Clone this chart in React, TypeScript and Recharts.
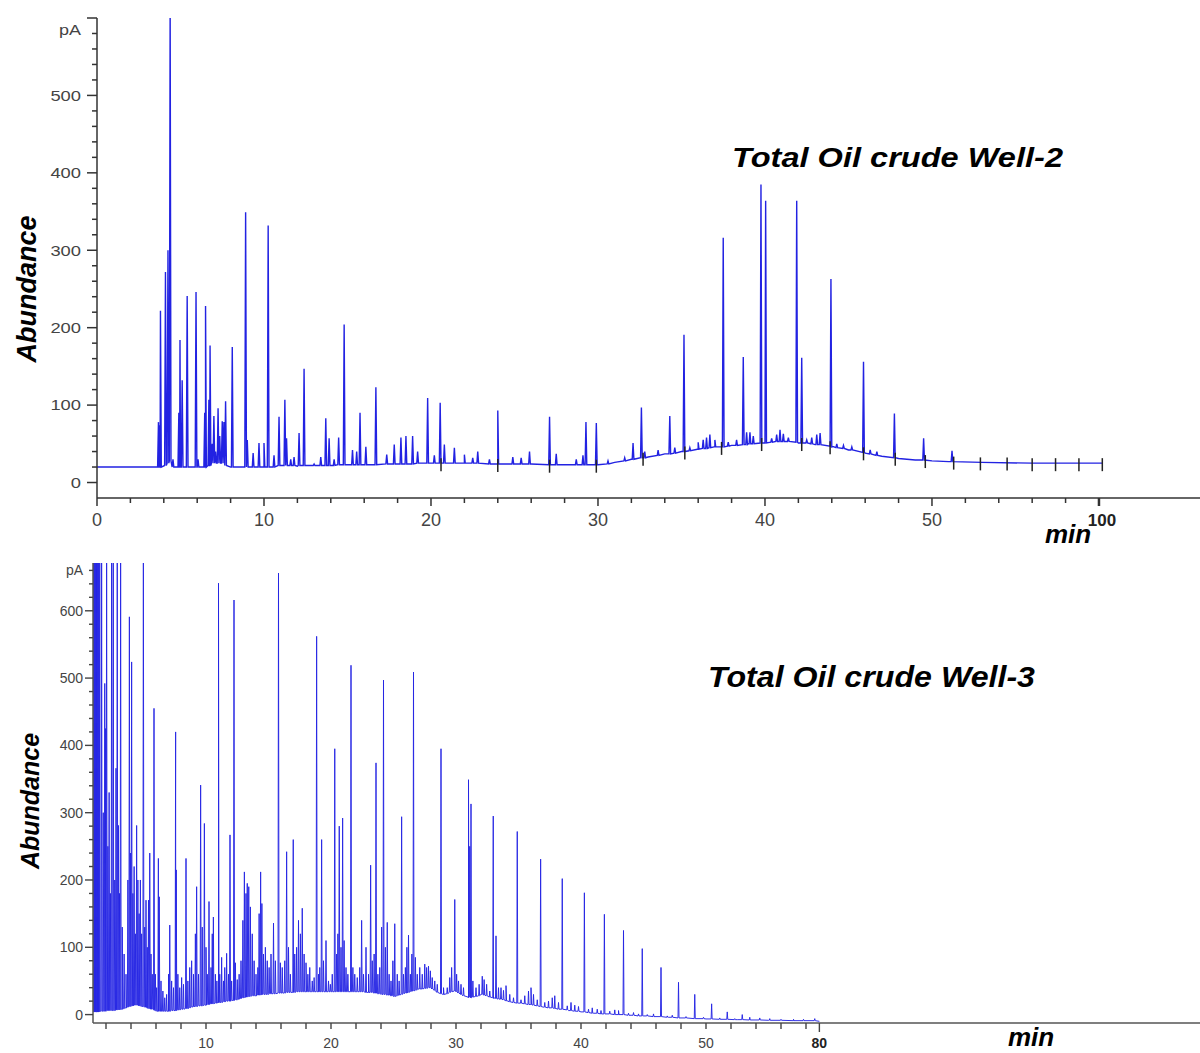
import React from "react";
import { ComposedChart, Line, Scatter, XAxis, YAxis } from "recharts";

// ---------- Well-2 (top) ----------
// baseline samples [time (min), abundance (pA)]
const W2_BASE: [number, number][] = [
  [0, 20], [3.55, 20], [5, 20], [8, 20], [10, 20], [12, 21], [14, 22], [16, 23], [18, 24],
  [20, 25], [22, 25], [24, 24], [26, 24], [28, 23], [30, 23], [31, 26], [32, 30], [33, 33],
  [34, 37], [35, 40], [36, 43], [37, 46], [38, 48], [39, 50], [40, 51], [41, 53], [42, 51],
  [43, 49], [44, 45], [45, 42], [46, 38], [47, 34], [48, 31], [49, 29], [50, 28], [51, 27],
  [53, 26], [56, 25], [60.2, 25],
];
// peaks [retention time, apex, foot]
const W2_PEAKS: [number, number, number][] = [
  [3.68, 78, 20], [3.73, 74, 20], [3.8, 222, 20], [4.1, 272, 22], [4.25, 300, 25], [4.38, 620, 28],
  [4.55, 30, 20], [4.9, 90, 20], [4.97, 184, 20], [5.1, 132, 20], [5.4, 241, 20], [5.93, 246, 20],
  [6.05, 30, 20], [6.45, 90, 20], [6.5, 228, 20], [6.7, 107, 22], [6.77, 177, 22], [6.9, 50, 25],
  [7.0, 86, 25], [7.1, 40, 25], [7.25, 96, 25], [7.35, 60, 25], [7.5, 79, 25], [7.6, 78, 25],
  [7.7, 105, 22], [8.1, 175, 20], [8.9, 349, 20], [9.0, 55, 20], [9.35, 38, 20], [9.7, 51, 20],
  [10.0, 51, 20], [10.25, 332, 20], [10.6, 35, 20], [10.9, 85, 22], [11.25, 107, 22], [11.35, 57, 22],
  [11.6, 30, 22], [11.8, 33, 22], [12.1, 64, 22], [12.4, 147, 22], [13.0, 24, 22], [13.4, 33, 22],
  [13.7, 83, 22], [13.9, 57, 22], [14.2, 30, 22], [14.47, 58, 23], [14.8, 204, 23], [15.3, 42, 23],
  [15.55, 40, 23], [15.75, 90, 23], [16.1, 46, 23], [16.7, 123, 23], [17.35, 36, 24], [17.8, 49, 24],
  [18.2, 58, 24], [18.5, 60, 24], [18.9, 60, 24], [19.2, 40, 25], [19.8, 109, 25], [20.2, 35, 25],
  [20.55, 103, 25], [20.8, 49, 25], [21.4, 45, 25], [22.0, 36, 25], [22.5, 32, 25], [22.8, 40, 25],
  [23.5, 30, 24], [24.0, 93, 24], [24.9, 33, 24], [25.4, 32, 24], [25.9, 40, 24], [27.1, 85, 23],
  [27.5, 37, 23], [28.7, 30, 23], [29.1, 35, 23], [29.28, 78, 23], [29.9, 77, 23], [30.6, 28, 24],
  [31.6, 32, 28], [32.1, 51, 30], [32.6, 97, 32], [32.8, 40, 32], [33.6, 42, 35], [34.3, 86, 37],
  [34.6, 45, 38], [35.15, 191, 40], [35.5, 45, 41], [36.0, 52, 43], [36.3, 55, 44], [36.5, 58, 44],
  [36.7, 62, 45], [37.0, 55, 46], [37.5, 316, 46], [37.8, 52, 47], [38.3, 55, 48], [38.7, 162, 49],
  [38.9, 65, 49], [39.1, 65, 50], [39.3, 60, 50], [39.76, 385, 51], [40.04, 364, 51], [40.4, 57, 52],
  [40.7, 62, 53], [40.9, 68, 53], [41.1, 63, 53], [41.4, 58, 53], [41.9, 364, 52], [42.2, 161, 51],
  [42.5, 55, 51], [42.8, 58, 50], [43.1, 62, 49], [43.3, 64, 49], [43.95, 263, 47], [44.3, 50, 45],
  [44.7, 48, 44], [45.2, 46, 42], [45.9, 156, 39], [46.3, 42, 37], [46.7, 40, 35], [47.75, 89, 32],
  [49.5, 57, 29], [51.2, 41, 27],
];
// integration markers on the baseline
const W2_MARKS: [number, number][] = [
  [20.6, 25], [24.0, 24], [27.1, 23], [29.9, 23], [32.7, 32], [35.2, 40], [37.4, 46], [39.8, 51],
  [42.2, 51], [43.9, 47], [45.9, 39], [47.8, 32], [49.6, 29], [51.3, 27], [52.9, 26], [54.5, 26],
  [56.0, 25], [57.4, 25], [58.8, 25], [60.2, 25],
];
const W2_XTICKS = [0, 2, 4, 6, 8, 10, 12, 14, 16, 18, 20, 22, 24, 26, 28, 30, 32, 34, 36, 38, 40, 42, 44, 46, 48, 50, 52, 54, 56, 58, 60];
const W2_XLABELS: Record<number, string> = { 0: "0", 10: "10", 20: "20", 30: "30", 40: "40", 50: "50", 60: "100" };
const W2_YTICKS = [0, 20, 40, 60, 80, 100, 120, 140, 160, 180, 200, 220, 240, 260, 280, 300, 320, 340, 360, 380, 400, 420, 440, 460, 480, 500, 520, 540, 560, 580, 600];

// ---------- Well-3 (bottom) ----------
const W3_BASE: [number, number][] = [
  [0.96, 4], [2, 6], [3.3, 8], [3.6, 10], [4.5, 14], [5.3, 10], [6.2, 5], [7, 5], [8, 8], [9, 12],
  [10, 14], [11, 18], [12, 20], [13, 25], [14, 28], [15, 30], [16, 32], [17, 33], [18, 34], [19, 34],
  [20, 34], [21, 34], [22, 34], [23, 33], [24, 30], [25, 27], [26, 32], [27, 38], [28, 40], [29, 30],
  [30, 35], [31, 25], [32, 30], [33, 24], [34, 20], [35, 17], [36, 15], [37, 11], [38, 9], [39, 6],
  [40, 4], [41, 2], [42, 1], [43, 0], [44, -1], [45, -2], [46, -3], [47, -4], [48, -5], [50, -6.5],
  [52.5, -7.5], [55, -8.5], [57, -9], [59.07, -10],
];
const W3_PEAKS: [number, number, number][] = [
  [1.0, 700, 4], [1.06, 700, 4], [1.12, 700, 4], [1.18, 700, 4], [1.24, 700, 4], [1.3, 700, 4],
  [1.36, 700, 4], [1.42, 700, 4], [1.5, 700, 5], [1.65, 700, 5], [1.78, 300, 5], [1.9, 492, 5],
  [1.97, 425, 5], [2.05, 700, 6], [2.15, 250, 6], [2.25, 330, 6], [2.35, 180, 6], [2.45, 700, 6],
  [2.58, 700, 6], [2.7, 200, 6], [2.8, 366, 7], [2.9, 700, 7], [3.0, 281, 7], [3.08, 180, 7],
  [3.17, 700, 8], [3.3, 130, 8], [3.45, 90, 9],
  [3.6, 60, 10], [3.75, 200, 11], [3.87, 591, 12], [3.95, 240, 12], [4.05, 524, 13], [4.15, 180, 13],
  [4.25, 220, 14], [4.35, 120, 14], [4.45, 281, 14], [4.55, 200, 14], [4.65, 150, 13], [4.75, 200, 13],
  [4.85, 120, 12], [4.99, 700, 12], [5.1, 130, 11], [5.2, 170, 11], [5.3, 100, 10], [5.4, 170, 9],
  [5.5, 240, 9], [5.6, 90, 8], [5.7, 60, 8], [5.84, 455, 7], [5.95, 60, 6], [6.05, 40, 5],
  [6.19, 232, 5], [6.26, 175, 5], [6.4, 50, 5], [6.55, 35, 5], [6.7, 25, 5], [6.85, 30, 5],
  [7.0, 60, 5], [7.1, 133, 5], [7.25, 50, 6], [7.4, 40, 6],
  [7.57, 420, 6], [7.62, 215, 6], [7.75, 60, 7], [7.9, 40, 7], [8.05, 55, 8], [8.2, 45, 8],
  [8.4, 232, 9], [8.55, 50, 9], [8.7, 70, 10], [8.85, 80, 11], [9.0, 60, 12], [9.15, 120, 12],
  [9.25, 190, 12], [9.4, 60, 13], [9.57, 341, 13], [9.7, 130, 13], [9.87, 284, 14], [10.0, 100, 14],
  [10.1, 60, 15], [10.24, 168, 15], [10.4, 70, 16], [10.5, 120, 16], [10.59, 145, 16], [10.75, 60, 17],
  [10.87, 50, 17],
  [11.0, 641, 18], [11.1, 60, 18], [11.25, 85, 18], [11.4, 50, 19], [11.5, 70, 19], [11.65, 91, 20],
  [11.8, 60, 20], [11.92, 267, 20], [12.05, 50, 21], [12.24, 616, 21], [12.35, 77, 22], [12.5, 52, 22],
  [12.65, 60, 23], [12.8, 80, 24], [12.95, 140, 25], [13.07, 212, 25], [13.2, 180, 26], [13.3, 195, 26],
  [13.42, 190, 27], [13.55, 160, 27], [13.7, 120, 28], [13.85, 80, 28], [14.0, 60, 28], [14.15, 70, 29],
  [14.25, 150, 29], [14.37, 212, 29], [14.47, 165, 30], [14.6, 90, 30], [14.75, 100, 30], [14.9, 80, 30],
  [15.05, 70, 31], [15.2, 90, 31], [15.4, 136, 31], [15.55, 80, 31],
  [15.8, 656, 32], [15.95, 77, 32], [16.1, 70, 32], [16.3, 80, 32], [16.45, 242, 33], [16.6, 100, 33],
  [16.75, 60, 33], [16.98, 260, 33], [17.1, 90, 33], [17.25, 100, 34], [17.4, 140, 34], [17.55, 120, 34],
  [17.7, 158, 34], [17.85, 90, 34], [18.0, 77, 34], [18.15, 60, 34], [18.3, 70, 34], [18.5, 50, 34],
  [18.65, 55, 34], [18.85, 562, 34], [19.0, 60, 34], [19.1, 70, 34], [19.25, 260, 34], [19.4, 80, 34],
  [19.6, 110, 34], [19.8, 50, 34], [19.95, 45, 34], [20.1, 60, 34],
  [20.3, 395, 34], [20.45, 90, 34], [20.55, 120, 34], [20.66, 280, 34], [20.8, 100, 34], [20.93, 292, 34],
  [21.05, 110, 34], [21.2, 70, 34], [21.35, 60, 34], [21.6, 519, 34], [21.75, 70, 34], [21.9, 60, 34],
  [22.1, 55, 34], [22.3, 70, 34], [22.45, 140, 34], [22.6, 60, 34], [22.8, 100, 33], [23.0, 60, 33],
  [23.17, 222, 33], [23.3, 80, 33], [23.45, 90, 32], [23.6, 374, 32], [23.75, 60, 31], [23.9, 70, 31],
  [24.05, 130, 30], [24.2, 497, 30], [24.35, 100, 30], [24.5, 137, 29], [24.65, 60, 29], [24.8, 50, 28],
  [24.95, 80, 28], [25.1, 135, 27], [25.3, 60, 28], [25.45, 50, 29],
  [25.65, 294, 30], [25.8, 60, 31], [25.95, 70, 32], [26.07, 100, 32], [26.2, 118, 33], [26.35, 60, 34],
  [26.47, 90, 35], [26.6, 509, 35], [26.75, 85, 36], [26.9, 60, 37], [27.1, 70, 38], [27.3, 60, 38],
  [27.5, 75, 39], [27.65, 70, 39], [27.8, 72, 40], [27.95, 65, 40], [28.1, 55, 38], [28.3, 50, 36],
  [28.5, 45, 33], [28.8, 395, 31], [29.0, 40, 30], [29.3, 40, 31], [29.5, 55, 33], [29.65, 70, 34],
  [29.9, 171, 35], [30.05, 60, 34], [30.2, 50, 32], [30.4, 45, 30], [30.6, 40, 28],
  [31.0, 349, 26], [31.1, 250, 26], [31.2, 313, 25], [31.35, 50, 26], [31.6, 40, 27], [31.85, 45, 28],
  [32.1, 57, 30], [32.25, 52, 29], [32.45, 45, 28], [32.7, 35, 26], [32.98, 295, 25], [33.2, 117, 24],
  [33.4, 40, 23], [33.6, 40, 23], [33.8, 36, 22], [34.0, 43, 21], [34.3, 30, 19], [34.6, 25, 18],
  [34.9, 272, 17], [35.2, 22, 17], [35.5, 28, 16],
  [35.8, 35, 15], [36.0, 40, 15], [36.2, 30, 14], [36.5, 22, 13], [36.77, 231, 12], [37.1, 18, 11],
  [37.4, 20, 10], [37.7, 25, 10], [37.9, 28, 9], [38.2, 18, 8], [38.5, 202, 8], [38.9, 13, 7],
  [39.2, 18, 6], [39.5, 14, 5], [39.8, 12, 5], [40.27, 181, 4], [40.6, 8, 3], [40.9, 10, 2],
  [41.3, 8, 2], [41.6, 6, 1],
  [41.87, 149, 1], [42.3, 5, 1], [42.7, 7, 0], [43.0, 6, 0], [43.4, 125, 0], [43.8, 2, -1],
  [44.2, 3, -1], [44.6, 1, -2], [44.9, 98, -2], [45.3, 0, -2], [45.8, 1, -3], [46.4, 70, -3],
  [46.9, -2, -4], [47.3, -1, -4], [47.8, 48, -5], [48.4, -3, -5], [49.1, 30, -6], [49.8, -4, -6],
  [50.45, 16, -6.5], [51.1, -5, -7], [51.7, 4, -7], [52.3, -6, -7.5], [52.9, 0, -7.5], [53.5, -4, -8],
  [54.3, -5, -8], [55.1, -6, -8.5], [56.0, -7, -8.5], [57.0, -7, -9], [57.8, -7, -9], [58.7, -6, -9],
];
const W3_XTICKS = [2, 4, 6, 8, 10, 12, 14, 16, 18, 20, 22, 24, 26, 28, 30, 32, 34, 36, 38, 40, 42, 44, 46, 48, 50, 52, 54, 56, 58, 59.07];
const W3_XLABELS: Record<number, string> = { 10: "10", 20: "20", 30: "30", 40: "40", 50: "50", 59.07: "80" };
const W3_YTICKS = [0, 20, 40, 60, 80, 100, 120, 140, 160, 180, 200, 220, 240, 260, 280, 300, 320, 340, 360, 380, 400, 420, 440, 460, 480, 500, 520, 540, 560, 580, 600, 620, 640, 660];

const BLUE = "#2222e2";
const AXIS = "#333";
const FONT = "'Liberation Sans', Arial, Helvetica, sans-serif";

type Pt = { t: number; v: number };
function buildTrace(base: [number, number][], peaks: [number, number, number][], hw: number): Pt[] {
  const pts: Pt[] = base.map(([t, v]) => ({ t, v }));
  peaks.forEach(([t, h, f]) => {
    pts.push({ t: t - hw, v: f }, { t, v: h }, { t: t + hw, v: f });
  });
  pts.sort((a, b) => a.t - b.t);
  return pts;
}

const traceW2 = buildTrace(W2_BASE, W2_PEAKS, 0.05);
const traceW3 = buildTrace(W3_BASE, W3_PEAKS, 0.04);
const marksW2 = W2_MARKS.map(([t, v]) => ({ t, v }));

const TopXTick = (p: any) => {
  const { x, y, payload } = p;
  const v = payload.value;
  const major = v % 10 === 0;
  const label = W2_XLABELS[v];
  const last = v === 60;
  return (
    <g>
      <line x1={x} x2={x} y1={y} y2={y + (major ? 8 : 5)} stroke={AXIS} strokeWidth={last ? 2.5 : 1.5} />
      {label && (
        <text x={last ? x + 3 : x} y={y + 28} textAnchor="middle" fontSize={last ? 17 : 18} fill={last ? "#222" : "#444"}
          fontWeight={last ? "bold" : "normal"} fontFamily={FONT}>{label}</text>
      )}
    </g>
  );
};

const TopYTick = (p: any) => {
  const { x, y, payload } = p;
  const v = payload.value;
  const major = v % 100 === 0;
  let label: string | null = null;
  if (major && v <= 500) label = String(v);
  if (v === 580) label = "pA";
  return (
    <g>
      <line x1={x} x2={x - (major ? 10 : 5)} y1={y} y2={y} stroke={AXIS} strokeWidth={1.5} />
      {label && (
        <text x={x - 16} y={y} dy={v === 580 ? "0.1em" : "0.36em"} textAnchor="end" fontSize={15}
          fill="#444" fontFamily={FONT} textLength={label === "pA" ? 22 : label.length * 10.2}
          lengthAdjust="spacingAndGlyphs">{label}</text>
      )}
    </g>
  );
};

const BotXTick = (p: any) => {
  const { x, y, payload } = p;
  const v = payload.value;
  const last = v > 59;
  const label = W3_XLABELS[v];
  return (
    <g>
      <line x1={x} x2={x} y1={y} y2={y + (last ? 9 : 6)} stroke="#444" strokeWidth={1.4} />
      {label && (
        <text x={x} y={y + 25} textAnchor="middle" fontSize={14} fill={last ? "#222" : "#444"}
          fontWeight={last ? "bold" : "normal"} fontFamily={FONT}>{label}</text>
      )}
    </g>
  );
};

const BotYTick = (p: any) => {
  const { x, y, payload } = p;
  const v = payload.value;
  const major = v % 100 === 0;
  let label: string | null = null;
  if (major && v <= 600) label = String(v);
  if (v === 660) label = "pA";
  return (
    <g>
      <line x1={x} x2={x - (major ? 8 : 4)} y1={y} y2={y} stroke="#444" strokeWidth={1.4} />
      {label && (
        <text x={x - 10} y={y} dy="0.36em" textAnchor="end" fontSize={14} fill="#444" fontFamily={FONT}>{label}</text>
      )}
    </g>
  );
};

const MarkShape = (p: any) => {
  const { cx, cy } = p;
  return <line x1={cx} x2={cx} y1={cy - 5} y2={cy + 8} stroke="#222" strokeWidth={1.5} />;
};

export default function App() {
  return (
    <div style={{ position: "absolute", left: 0, top: 0, width: 1200, height: 1053, background: "#fff" }}>
      <div style={{ position: "absolute", left: 0, top: 0 }}>
        <ComposedChart width={1200} height={540} data={traceW2} margin={{ top: 18, right: 0, left: 0, bottom: 0 }}>
          <XAxis dataKey="t" type="number" domain={[0, 66.05]} allowDataOverflow ticks={W2_XTICKS} interval={0}
            tickSize={0} tickMargin={0} tickLine={false} height={42}
            axisLine={{ stroke: AXIS, strokeWidth: 1.5 }} tick={TopXTick} />
          <YAxis type="number" domain={[-20, 600]} allowDataOverflow ticks={W2_YTICKS} interval={0}
            tickSize={0} tickMargin={0} tickLine={false} width={97}
            axisLine={{ stroke: AXIS, strokeWidth: 1.5 }} tick={TopYTick} />
          <Line dataKey="v" stroke={BLUE} strokeWidth={1.4} dot={false} isAnimationActive={false} type="linear" />
          <Scatter data={marksW2} dataKey="v" shape={MarkShape} isAnimationActive={false} />
        </ComposedChart>
      </div>
      <div style={{ position: "absolute", left: 0, top: 540 }}>
        <ComposedChart width={1200} height={513} data={traceW3} margin={{ top: 23, right: 0, left: 0, bottom: 0 }}>
          <XAxis dataKey="t" type="number" domain={[0.96, 89.52]} allowDataOverflow ticks={W3_XTICKS} interval={0}
            tickSize={0} tickMargin={0} tickLine={false} height={30}
            axisLine={{ stroke: "#555", strokeWidth: 1.5 }} tick={BotXTick} />
          <YAxis type="number" domain={[-12.5, 671]} allowDataOverflow ticks={W3_YTICKS} interval={0}
            tickSize={0} tickMargin={0} tickLine={false} width={93}
            axisLine={{ stroke: "#555", strokeWidth: 1.5 }} tick={BotYTick} />
          <Line dataKey="v" stroke="#2626e4" strokeWidth={0.95} dot={false} isAnimationActive={false} type="linear" />
        </ComposedChart>
      </div>
      <svg width={1200} height={1053} style={{ position: "absolute", left: 0, top: 0, pointerEvents: "none" }}>
        <g fontFamily={FONT} fontWeight="bold" fontStyle="italic" fill="#000">
          <text x={732} y={167} fontSize={28} textLength={331} lengthAdjust="spacingAndGlyphs">Total Oil crude Well-2</text>
          <text x={708} y={687} fontSize={29} textLength={327} lengthAdjust="spacingAndGlyphs">Total Oil crude Well-3</text>
          <text x={36} y={289} fontSize={27} textAnchor="middle" transform="rotate(-90 36 289)">Abundance</text>
          <text x={39} y={801} fontSize={25} textAnchor="middle" transform="rotate(-90 39 801)">Abundance</text>
          <text x={1045} y={543} fontSize={26}>min</text>
          <text x={1008} y={1046} fontSize={26}>min</text>
        </g>
      </svg>
    </div>
  );
}
